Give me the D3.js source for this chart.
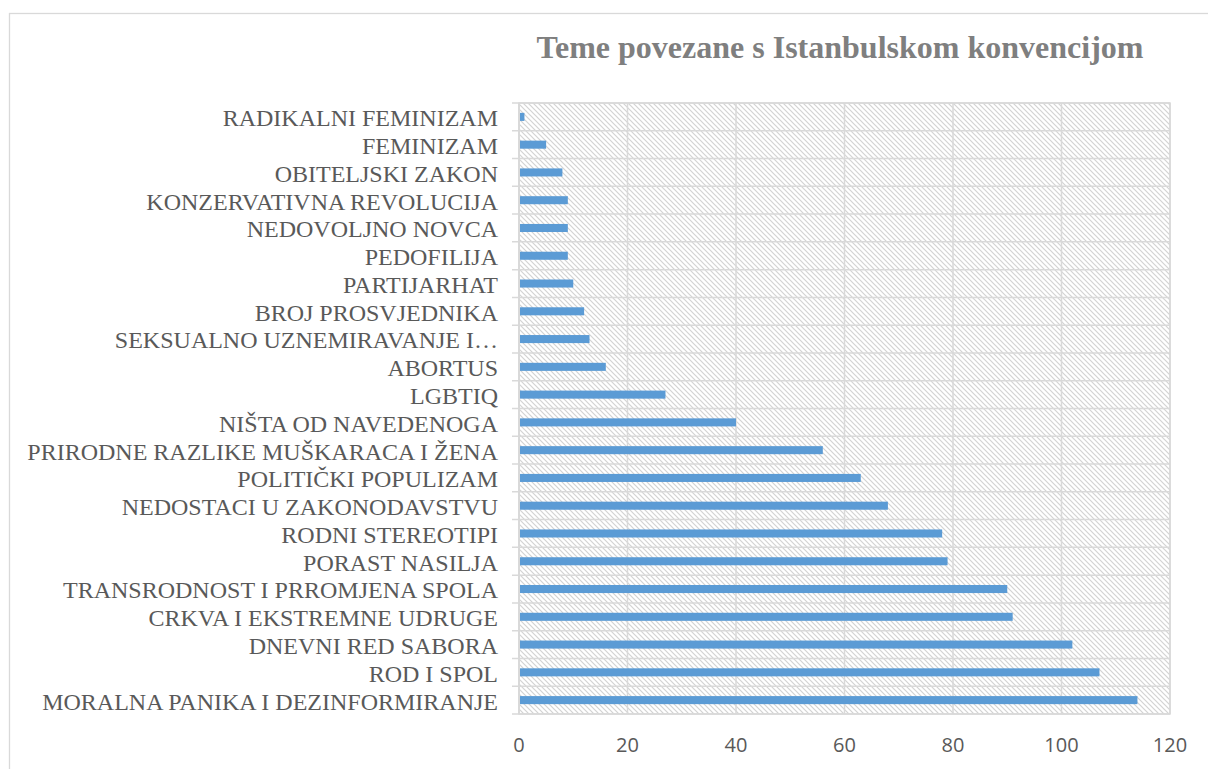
<!DOCTYPE html>
<html>
<head>
<meta charset="utf-8">
<script src="https://cdn.jsdelivr.net/npm/d3@7/dist/d3.min.js"></script>
<style>
  html, body { margin: 0; padding: 0; background: #ffffff; }
  svg { display: block; }
</style>
</head>
<body>
<svg id="chart" width="1208" height="769"></svg>
<script>
const categories = [
  "RADIKALNI FEMINIZAM",
  "FEMINIZAM",
  "OBITELJSKI ZAKON",
  "KONZERVATIVNA REVOLUCIJA",
  "NEDOVOLJNO NOVCA",
  "PEDOFILIJA",
  "PARTIJARHAT",
  "BROJ PROSVJEDNIKA",
  "SEKSUALNO UZNEMIRAVANJE I…",
  "ABORTUS",
  "LGBTIQ",
  "NIŠTA OD NAVEDENOGA",
  "PRIRODNE RAZLIKE MUŠKARACA I ŽENA",
  "POLITIČKI POPULIZAM",
  "NEDOSTACI U ZAKONODAVSTVU",
  "RODNI STEREOTIPI",
  "PORAST NASILJA",
  "TRANSRODNOST I PRROMJENA SPOLA",
  "CRKVA I EKSTREMNE UDRUGE",
  "DNEVNI RED SABORA",
  "ROD I SPOL",
  "MORALNA PANIKA I DEZINFORMIRANJE"
];
const values = [1, 5, 8, 9, 9, 9, 10, 12, 13, 16, 27, 40, 56, 63, 68, 78, 79, 90, 91, 102, 107, 114];
const xTicks = [0, 20, 40, 60, 80, 100, 120];
const title = "Teme povezane s Istanbulskom konvencijom";

(function () {
const svg = d3.select("#chart");

// outer chart border
svg.append("rect")
  .attr("x", 9.5).attr("y", 13.5)
  .attr("width", 1220).attr("height", 780)
  .attr("fill", "#ffffff")
  .attr("stroke", "#d9d9d9").attr("stroke-width", 1.3);

// hatch pattern
const defs = svg.append("defs");
const pat = defs.append("pattern")
  .attr("id", "hatch")
  .attr("patternUnits", "userSpaceOnUse")
  .attr("width", 5).attr("height", 5);
pat.append("rect").attr("width", 5).attr("height", 5).attr("fill", "#ffffff");
pat.append("path")
  .attr("d", "M0,0 L5,5 M-1,4 L1,6 M4,-1 L6,1")
  .attr("stroke", "#d3d3d3").attr("stroke-width", 1.2);

const pLeft = 519, pRight = 1170, pTop = 103, pBottom = 714;

const x = d3.scaleLinear().domain([0, 120]).range([pLeft, pRight]);
const y = d3.scaleBand().domain(categories).range([pTop, pBottom])
  .paddingInner(0.71).paddingOuter(0.355);
const step = y.step();

// plot area
svg.append("rect")
  .attr("x", pLeft).attr("y", pTop)
  .attr("width", pRight - pLeft).attr("height", pBottom - pTop)
  .attr("fill", "url(#hatch)")
  .attr("stroke", "#d9d9d9").attr("stroke-width", 1.5);

// vertical gridlines
svg.append("g").selectAll("line").data(xTicks).join("line")
  .attr("x1", d => x(d)).attr("x2", d => x(d))
  .attr("y1", pTop).attr("y2", pBottom)
  .attr("stroke", "#d9d9d9").attr("stroke-width", 1.5);

// horizontal gridlines at category boundaries (with tick marks extending left)
const boundaries = d3.range(categories.length + 1).map(i => pTop + i * step);
svg.append("g").selectAll("line").data(boundaries).join("line")
  .attr("x1", pLeft - 7).attr("x2", pRight)
  .attr("y1", d => d).attr("y2", d => d)
  .attr("stroke", "#d9d9d9").attr("stroke-width", 1.5);

// left axis line
svg.append("line")
  .attr("x1", pLeft).attr("x2", pLeft)
  .attr("y1", pTop).attr("y2", pBottom)
  .attr("stroke", "#d9d9d9").attr("stroke-width", 1.5);

// bars
svg.append("g").selectAll("rect").data(categories).join("rect")
  .attr("x", x(0) + 1)
  .attr("y", d => y(d))
  .attr("width", (d, i) => x(values[i]) - x(0) - 1)
  .attr("height", y.bandwidth())
  .attr("fill", "#5b9bd5");

// category labels
svg.append("g").selectAll("text").data(categories).join("text")
  .attr("x", 498)
  .attr("y", d => y(d) + y.bandwidth() / 2 + 1)
  .attr("dy", "0.35em")
  .attr("text-anchor", "end")
  .attr("font-family", "'Liberation Serif', 'Times New Roman', serif")
  .attr("font-size", 24)
  .attr("fill", "#595959")
  .text(d => d);

// x tick labels
svg.append("g").selectAll("text").data(xTicks).join("text")
  .attr("x", d => x(d))
  .attr("y", 745)
  .attr("dy", "0.35em")
  .attr("text-anchor", "middle")
  .attr("font-family", "'Open Sans', 'Noto Sans', sans-serif")
  .attr("font-size", 20)
  .attr("fill", "#595959")
  .text(d => d);

// title
svg.append("text")
  .attr("x", 840).attr("y", 58)
  .attr("text-anchor", "middle")
  .attr("font-family", "'Liberation Serif', 'Times New Roman', serif")
  .attr("font-weight", "bold")
  .attr("font-size", 32)
  .attr("fill", "#7f7f7f")
  .text(title);
})();
</script>
</body>
</html>
